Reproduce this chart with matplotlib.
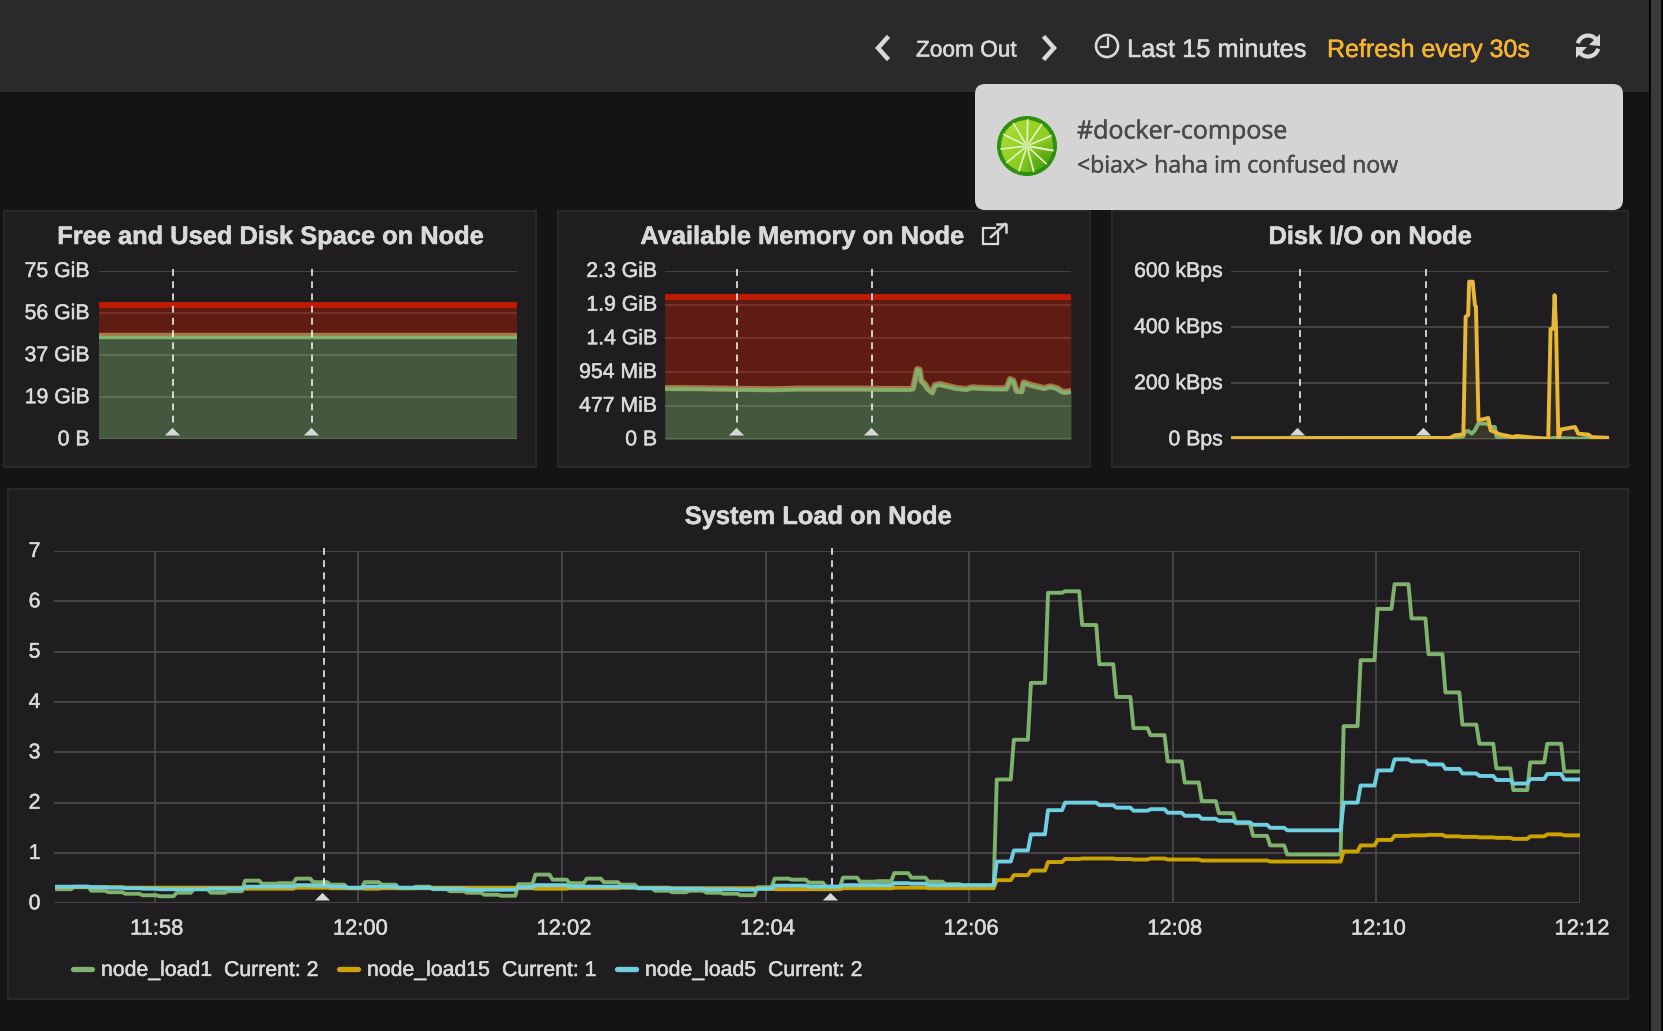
import numpy as np
from matplotlib import pyplot as plt
from matplotlib import patheffects
from matplotlib.colors import LinearSegmentedColormap
from matplotlib.patches import Circle, FancyBboxPatch, Polygon, Rectangle, Arc
from matplotlib.text import Text
from matplotlib.transforms import ScaledTranslation

plt.rcParams['font.family'] = ['Liberation Sans', 'DejaVu Sans']

W, H = 1663, 1031

# everything on the time axis is minutes after 11:57
time_ticks = [1, 3, 5, 7, 9, 11, 13, 15]
time_labels = ["11:58", "12:00", "12:02", "12:04", "12:06", "12:08", "12:10", "12:12"]
annotation_times = [2.66, 7.65]

# system load, one value per scrape
load1 = [.28, .33, .25, .22, .19, .16, .14, .21, .28, .21, .24, .45, .39, .40, .49, .42, .37, .30,
         .42, .37, .30, .33, .28, .24, .21, .17, .15, .38, .57, .47, .40, .49, .42, .37, .30, .25, .22,
         .25, .21, .19, .16, .32, .49, .47, .41, .33, .51, .43, .44, .60, .51, .43, .38, .35, .35,
         2.46, 3.25, 4.38, 6.17, 6.20, 5.53, 4.75, 4.10, 3.48, 3.34, 2.82, 2.40, 2.03, 1.79, 1.59, 1.34,
         1.15, .97, .97, .97,
         3.52, 4.83, 5.85, 6.34, 5.66, 4.95, 4.19, 3.55, 3.17, 2.68, 2.25, 2.80, 3.17, 2.62]
load5 = [.33, .33, .32, .31, .30, .29, .28, .28, .28, .29, .29, .33, .33, .33, .36, .35, .33, .31,
         .33, .33, .31, .31, .29, .29, .27, .27, .27, .32, .36, .36, .33, .33, .33, .32, .30, .30, .29,
         .29, .28, .28, .27, .29, .35, .35, .33, .33, .36, .36, .36, .40, .39, .36, .36, .36, .36,
         .83, 1.05, 1.37, 1.85, 2.00, 2.00, 1.95, 1.90, 1.84, 1.87, 1.80, 1.74, 1.68, 1.64, 1.61, 1.56,
         1.50, 1.45, 1.45, 1.45,
         2.00, 2.34, 2.64, 2.86, 2.82, 2.76, 2.67, 2.58, 2.53, 2.45, 2.38, 2.47, 2.57, 2.46]
load15 = [.32, .32, .32, .32, .31, .31, .31, .31, .31, .31, .31, .29, .29, .29, .31, .31, .30, .30,
          .29, .30, .30, .30, .31, .31, .31, .31, .31, .30, .29, .29, .30, .30, .30, .31, .31, .31, .30,
          .30, .30, .30, .30, .29, .28, .28, .28, .28, .30, .30, .30, .31, .31, .30, .30, .30, .30,
          .46, .56, .65, .82, .88, .89, .89, .88, .87, .89, .87, .87, .85, .85, .85, .85,
          .83, .83, .83, .83,
          1.03, 1.15, 1.26, 1.34, 1.35, 1.36, 1.33, 1.32, 1.31, 1.30, 1.28, 1.33, 1.37, 1.35]

disk_space_ticks = [0, 18.63, 37.25, 55.88, 74.51]
disk_space_labels = ["0 B", "19 GiB", "37 GiB", "56 GiB", "75 GiB"]
disk_free = [45.7, 45.7]
disk_total = [59.3, 59.3]

mem_ticks = [0, .466, .931, 1.397, 1.863, 2.328]
mem_labels = ["0 B", "477 MiB", "954 MiB", "1.4 GiB", "1.9 GiB", "2.3 GiB"]
mem_minutes = [0, 1, 2.66, 4, 5, 6, 7.2, 8, 9.05, 9.17, 9.32, 9.41, 9.47, 9.6, 9.72, 9.88, 9.97, 10.16,
               10.77, 11.14, 11.33, 12.13, 12.62, 12.75, 12.87, 12.99, 13.18, 13.25, 13.5, 14.0, 14.25,
               14.5, 14.69, 14.87, 15]
mem_available = [.697, .695, .686, .68, .69, .69, .69, .685, .683, .692, .96, .95, .80, .752, .683, .637,
                 .738, .752, .697, .683, .706, .692, .692, .82, .80, .66, .65, .775, .743, .697, .72,
                 .692, .646, .646, .66]
mem_total = [1.966] * len(mem_minutes)

io_ticks = [0, 200, 400, 600]
io_labels = ["0 Bps", "200 kBps", "400 kBps", "600 kBps"]
io_read_minutes = [0, 8.69, 8.88, 9.22, 9.31, 9.41, 9.45, 9.59, 9.68, 9.72, 9.82, 10.21, 10.30, 10.67, 11.20,
                   11.33, 12.0, 12.59, 12.68, 12.79, 12.84, 12.90, 12.99, 13.09, 13.65, 13.78, 14.18, 14.31, 15]
io_read = [4, 5, 14, 18, 437, 443, 562, 562, 478, 472, 68, 76, 32, 18, 8, 12, 6, 2, 393, 395, 514, 395, 2, 35,
           44, 20, 17, 8, 5]
io_write_minutes = [0, 8.69, 9.22, 9.28, 9.41, 9.55, 9.68, 9.81, 10.17, 10.30, 10.47, 10.54, 10.94, 12.66,
                    12.79, 13.85, 14.11, 15]
io_write = [4, 3, 10, 26, 30, 20, 32, 56, 56, 44, 44, 8, 2, 2, 5, 2, 5, 5]

PAGE = "#141414"
PANEL = "#1f1d1f"
BORDER = "#292929"
GRID = "#494949"
TEXT = "#d8d9da"
GREEN = "#7eb26d"
YELLOW = "#cca300"
GOLD = "#eab839"
BLUE = "#6ed0e0"
RED = "#bf1b00"
TRIANGLE = [(-1, 0), (1, 0), (0, 1)]

fig = plt.figure(figsize=(W / 100, H / 100), dpi=100, facecolor=PAGE)

# pixel-space layer behind the charts for the page furniture
bg = fig.add_axes([0, 0, 1, 1], zorder=0)
bg.set_xlim(0, W)
bg.set_ylim(H, 0)
bg.axis("off")


def plot_axes(x0, x1, y0, y1, pad):
    ax = fig.add_axes([x0 / W, 1 - y1 / H, (x1 - x0) / W, (y1 - y0) / H], zorder=1)
    ax.set_facecolor("none")
    for s in ax.spines.values():
        s.set_visible(False)
    ax.tick_params(length=0, colors=TEXT, labelsize=15.3)
    ax.tick_params(axis="y", pad=pad)
    ax.grid(axis="y", color=GRID, lw=1.3)
    ax.set_axisbelow(True)
    ax.set_xlim(0.01, 15)
    ax.set_xticks([])
    return ax


def nudge_labels(labels, px, py):
    move = ScaledTranslation(px / 100, py / 100, fig.dpi_scale_trans)
    for label in labels:
        label.set_transform(label.get_transform() + move)


def annotations(ax, top, bottom, tri_bottom, shift=.03, dash_shift=0, lw=1.1):
    for t in annotation_times:
        ax.plot([t + dash_shift] * 2, [top, bottom], color="white", lw=lw, ls=(0, (4.5, 3.5)), clip_on=False, zorder=5)
        ax.plot(t - shift, tri_bottom, marker=TRIANGLE, ms=11, mfc="#d8d8d8", mec="none", clip_on=False, zorder=6)


def panel(x0, x1, y0, y1, title, tx, ty):
    bg.add_patch(Rectangle((x0, y0), x1 - x0, y1 - y0, fc=PANEL, ec=BORDER, lw=1.5))
    bg.text(tx, ty, title, color=TEXT, fontsize=18.3, fontweight="bold", ha="center", va="center")


# header and scrollbar
bg.add_patch(Rectangle((0, 0), 1649, 92, fc="#2a2a2c", ec="none"))
bg.add_patch(Rectangle((1649, 0), 14, H, fc="#050505", ec="none"))
bg.add_patch(Rectangle((1651, 0), 10, H, fc="#3a3a3a", ec="none"))

panel(4, 536, 211, 466.5, "Free and Used Disk Space on Node", 270, 237)
panel(558, 1090, 211, 466.5, "Available Memory on Node", 802, 237)
panel(1112, 1628, 211, 466.5, "Disk I/O on Node", 1370, 237)
panel(8, 1628, 489, 999, "System Load on Node", 818, 517)

# header text and icons
bg.text(916, 50, "Zoom Out", color=TEXT, fontsize=16.3, va="center")
bg.text(1127, 50, "Last 15 minutes", color=TEXT, fontsize=18.3, va="center")
bg.text(1327, 50, "Refresh every 30s", color="#f5b52f", fontsize=18, va="center")
bg.plot([887, 878, 887], [38, 48, 58], color=TEXT, lw=3.2, solid_joinstyle="miter")
bg.plot([1045, 1054, 1045], [38, 48, 58], color=TEXT, lw=3.2, solid_joinstyle="miter")
bg.add_patch(Circle((1107, 46), 11, fc="none", ec=TEXT, lw=1.9))
bg.plot([1108, 1108, 1101], [38, 47, 47], color=TEXT, lw=1.6)
bg.add_patch(Arc((1588, 46), 21, 21, theta1=195, theta2=330, ec=TEXT, lw=3))
bg.add_patch(Arc((1588, 46), 21, 21, theta1=15, theta2=150, ec=TEXT, lw=3))
bg.add_patch(Polygon([[1600, 34], [1600, 46], [1589, 45]], fc=TEXT, ec="none"))
bg.add_patch(Polygon([[1576, 58], [1576, 47], [1587, 47]], fc=TEXT, ec="none"))

# notification
bg.add_patch(FancyBboxPatch((983, 92), 632, 110, boxstyle="round,pad=8,rounding_size=10", fc="#d4d4d4", ec="none", zorder=3))
bg.add_patch(Circle((1027, 146), 30, fc="#2f8f0e", ec="none", zorder=4))
lime = LinearSegmentedColormap.from_list("lime", ["#a8dc34", "#8ccc22", "#3f9a10"])
shade = bg.imshow([[0, .35], [.35, 1]], extent=(1001, 1053, 172, 120), cmap=lime, interpolation="bicubic",
                  aspect="auto", zorder=4.5)
shade.set_clip_path(Circle((1027, 146), 26, transform=bg.transData))
bg.set_xlim(0, W)
bg.set_ylim(H, 0)
for a in np.radians(np.arange(10, 370, 32.7)):
    bg.plot([1027, 1027 + 26 * np.cos(a)], [146, 146 + 26 * np.sin(a)], color="#e8f5c8", lw=1.2, zorder=5)
bg.add_patch(Circle((1027, 146), 4, fc="#c8e89a", ec="none", zorder=6))
bg.text(1077, 132, "#docker-compose", color="#4a4a4a", fontsize=18, family="Open Sans", va="center", zorder=5)
bg.text(1077, 166.5, "<biax> haha im confused now", color="#4a4a4a", fontsize=16.6, family="Open Sans", va="center", zorder=5)

# external link icon next to the memory title
bg.add_patch(Rectangle((983, 228), 15, 16, fc="none", ec=TEXT, lw=1.6))
bg.add_patch(Rectangle((996, 222), 10, 9, fc=PANEL, ec="none"))
bg.plot([991, 1005], [237, 224], color=TEXT, lw=1.8)
bg.plot([997, 1006, 1006], [224, 224, 232], color=TEXT, lw=1.8)

# disk space
ax = plot_axes(98.6, 517, 271, 439.3, 6.5)
t = [0, 15]
ax.fill_between(t, disk_free, color=GREEN, alpha=.4, lw=0)
ax.fill_between(t, disk_free, disk_total, color=RED, alpha=.4, lw=0)
ax.plot(t, disk_total, color=RED, lw=4.2, solid_capstyle="butt")
ax.plot(t, np.array(disk_free) + .4, color="#a8774a", lw=3.2, solid_capstyle="butt")
ax.plot(t, np.array(disk_free) - .3, color=GREEN, lw=2.5, solid_capstyle="butt")
ax.set_ylim(0, 74.51)
ax.set_yticks(disk_space_ticks, disk_space_labels)
nudge_labels(ax.get_yticklabels(), 0, 1.5)
annotations(ax, 75.5, 5, 2.0)

# memory
ax = plot_axes(665, 1071, 271, 439.3, 5.7)
ax.fill_between(mem_minutes, mem_available, color=GREEN, alpha=.4, lw=0)
ax.fill_between(mem_minutes, mem_available, mem_total, color=RED, alpha=.4, lw=0)
ax.plot(mem_minutes, mem_total, color=RED, lw=4.2, solid_capstyle="butt")
ax.plot(mem_minutes, np.array(mem_available) + .012, color="#a8774a", lw=4.4, solid_capstyle="butt")
ax.plot(mem_minutes, mem_available, color=GREEN, lw=2.6, solid_capstyle="butt")
ax.set_ylim(0, 2.328)
ax.set_yticks(mem_ticks, mem_labels)
nudge_labels(ax.get_yticklabels(), 0, 1.5)
annotations(ax, 2.36, .16, .065)

# disk io
ax = plot_axes(1231.3, 1609, 271, 439.3, 6.2)
ax.fill_between(io_read_minutes, io_read, color=GOLD, alpha=.1, lw=0)
ax.fill_between(io_write_minutes, io_write, color=GREEN, alpha=.1, lw=0)
ax.plot(io_write_minutes, io_write, color=GREEN, lw=2.8)
ax.plot(io_read_minutes, io_read, color=GOLD, lw=2.8)
ax.set_ylim(0, 600)
ax.set_yticks(io_ticks, io_labels)
nudge_labels(ax.get_yticklabels(), 0, 1.5)
annotations(ax, 608, 40, 16, shift=.04, dash_shift=.08)

# system load, scrapes shift a little at the 12:09:40 jump
secs = np.concatenate([2.4 + 10.07 * np.arange(75), 760.7 + 10.0 * np.arange(14)])
seg_ends = np.append(secs[1:], 900.7) - 1.8
minutes = np.column_stack([secs, seg_ends]).ravel() / 60
ax = plot_axes(54, 1580, 551, 903.3, 9.7)
ax.grid(axis="x", color=GRID, lw=1.3)
ax.set_xticks(time_ticks, time_labels)
ax.tick_params(axis="x", pad=11, labelsize=15.8)
nudge_labels(ax.get_xticklabels(), 2, 0)
for series, color in ((load1, GREEN), (load15, YELLOW), (load5, BLUE)):
    ax.plot(minutes, np.repeat(series, 2), color=color, lw=2.8, solid_joinstyle="round")
ax.set_ylim(0, 7)
ax.set_yticks(range(8))
nudge_labels(ax.get_yticklabels(), 0, 1.5)
annotations(ax, 7.05, .26, .06, shift=.015)

# legend
legend_rows = [
    (71, GREEN, "node_load1", 101, "Current: 2", 224),
    (337, YELLOW, "node_load15", 367, "Current: 1", 502),
    (615, BLUE, "node_load5", 645, "Current: 2", 768),
]
for sx, color, name, nx, cur, cx in legend_rows:
    bg.plot([sx + 2, sx + 21], [969, 969], color=color, lw=3.8, solid_capstyle="round")
    bg.text(nx, 970.5, name, color=TEXT, fontsize=15.3, va="center")
    bg.text(cx, 970.5, cur, color=TEXT, fontsize=15.3, va="center")

# the reference is a retina grab, its type looks a touch heavier
for text in fig.findobj(Text):
    text.set_path_effects([patheffects.withStroke(linewidth=.35, foreground=text.get_color())])

fig.savefig("out.png", dpi=100, facecolor=PAGE)
